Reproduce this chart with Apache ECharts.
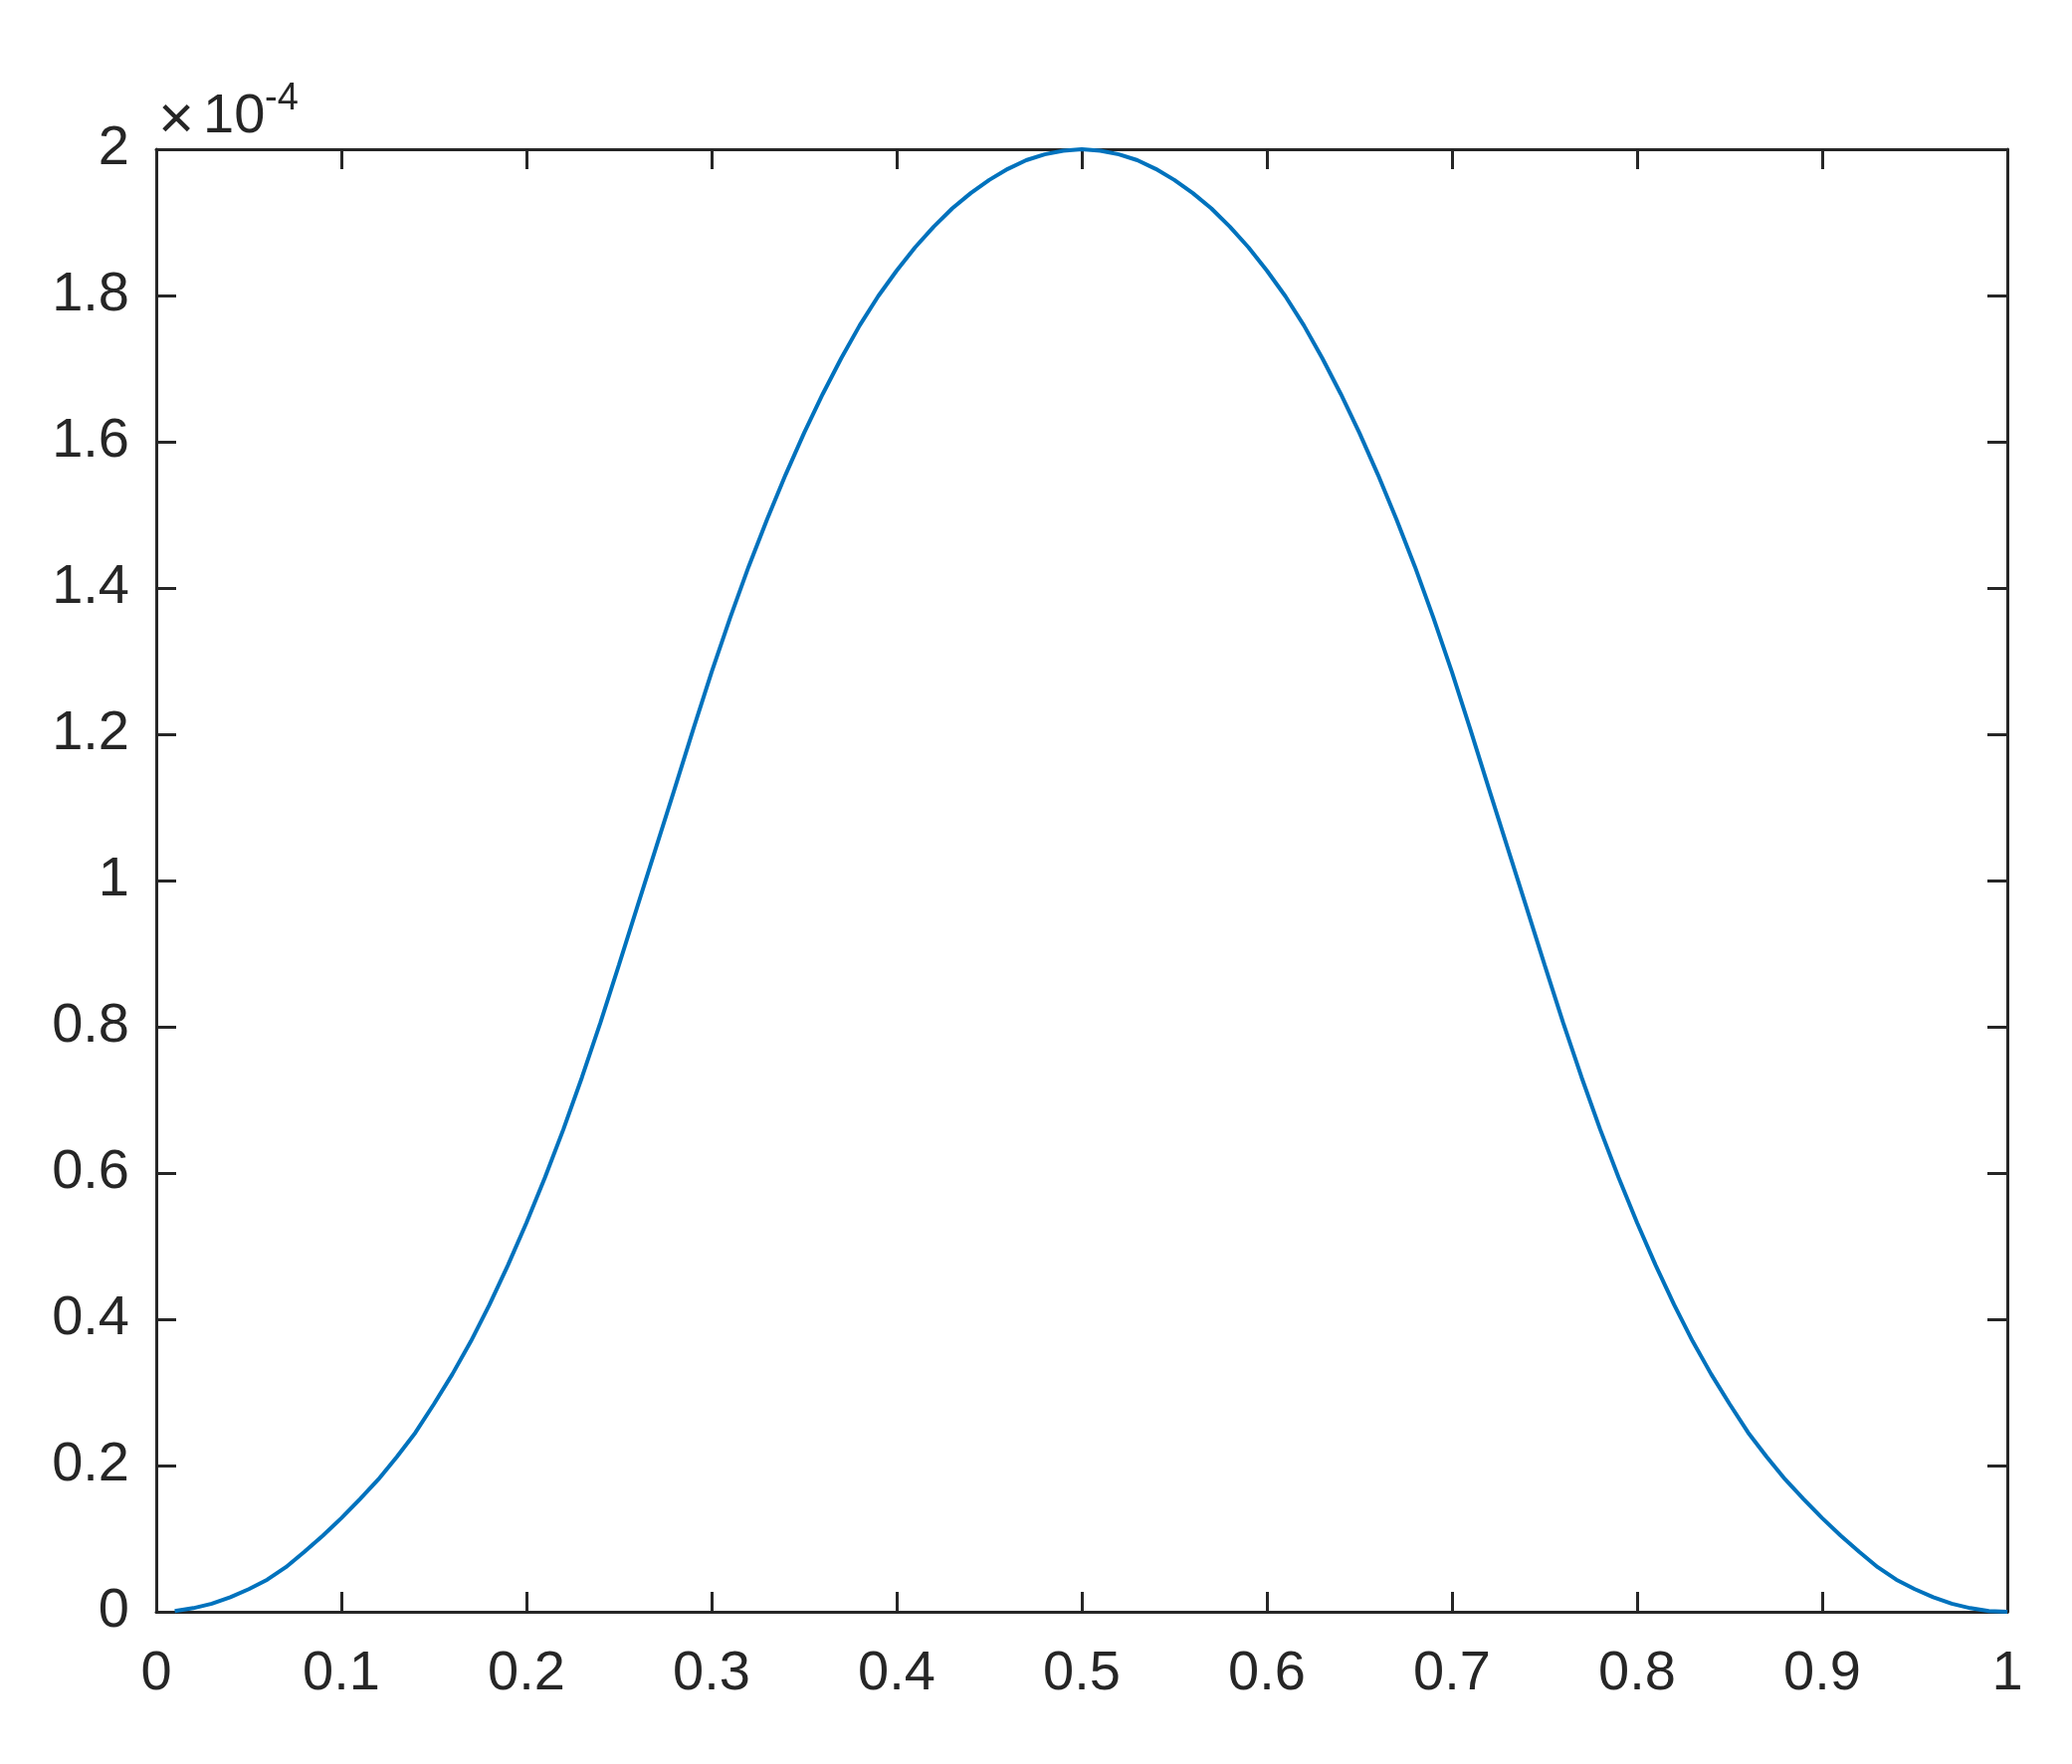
<!DOCTYPE html>
<html>
<head>
<meta charset="utf-8">
<script src="https://cdn.jsdelivr.net/npm/echarts@6/dist/echarts.min.js"></script>
<style>
  html, body { margin: 0; padding: 0; background: #ffffff; }
  #chart { width: 2082px; height: 1773px; }
</style>
</head>
<body>
<div id="chart"></div>
<script>
// ---- data (y values in units of 1e-4, as shown on the axis) ----
var xValues = [
  0.01, 0.02, 0.03, 0.04, 0.05, 0.06, 0.07, 0.08, 0.09, 0.10,
  0.11, 0.12, 0.13, 0.14, 0.15, 0.16, 0.17, 0.18, 0.19, 0.20,
  0.21, 0.22, 0.23, 0.24, 0.25, 0.26, 0.27, 0.28, 0.29, 0.30,
  0.31, 0.32, 0.33, 0.34, 0.35, 0.36, 0.37, 0.38, 0.39, 0.40,
  0.41, 0.42, 0.43, 0.44, 0.45, 0.46, 0.47, 0.48, 0.49, 0.50,
  0.51, 0.52, 0.53, 0.54, 0.55, 0.56, 0.57, 0.58, 0.59, 0.60,
  0.61, 0.62, 0.63, 0.64, 0.65, 0.66, 0.67, 0.68, 0.69, 0.70,
  0.71, 0.72, 0.73, 0.74, 0.75, 0.76, 0.77, 0.78, 0.79, 0.80,
  0.81, 0.82, 0.83, 0.84, 0.85, 0.86, 0.87, 0.88, 0.89, 0.90,
  0.91, 0.92, 0.93, 0.94, 0.95, 0.96, 0.97, 0.98, 0.99, 1.00
];
var yValues = [
  0.001, 0.005, 0.011, 0.020, 0.031, 0.044, 0.061, 0.082, 0.104, 0.128,
  0.154, 0.181, 0.212, 0.245, 0.284, 0.325, 0.370, 0.420, 0.474, 0.532,
  0.594, 0.660, 0.731, 0.806, 0.885, 0.965, 1.045, 1.125, 1.206, 1.285,
  1.359, 1.429, 1.494, 1.555, 1.612, 1.665, 1.714, 1.759, 1.799, 1.834,
  1.866, 1.894, 1.919, 1.940, 1.958, 1.973, 1.985, 1.993, 1.998, 2.000,
  1.998, 1.993, 1.985, 1.973, 1.958, 1.940, 1.919, 1.894, 1.866, 1.834,
  1.799, 1.759, 1.714, 1.665, 1.612, 1.555, 1.494, 1.429, 1.359, 1.285,
  1.206, 1.125, 1.045, 0.965, 0.885, 0.806, 0.731, 0.660, 0.594, 0.532,
  0.474, 0.420, 0.370, 0.325, 0.284, 0.245, 0.212, 0.181, 0.154, 0.128,
  0.104, 0.082, 0.061, 0.044, 0.031, 0.020, 0.011, 0.005, 0.001, 0.000
];
var xTickLabels = ['0', '0.1', '0.2', '0.3', '0.4', '0.5', '0.6', '0.7', '0.8', '0.9', '1'];
var yTickLabels = ['0', '0.2', '0.4', '0.6', '0.8', '1', '1.2', '1.4', '1.6', '1.8', '2'];
var yScaleTimes = '\u00D7';
var yScaleBase = '10';
var yScaleExponent = '-4';

var FONT = "'Liberation Sans', Arial, Helvetica, sans-serif";
var INK = '#262626';
var FS = 56;

var seriesData = xValues.map(function (x, i) { return [x, yValues[i]]; });

function xLabel(v) {
  var idx = Math.round(v / 0.1);
  return xTickLabels[idx] !== undefined ? xTickLabels[idx] : '';
}
function yLabel(v) {
  var idx = Math.round(v / 0.2);
  return yTickLabels[idx] !== undefined ? yTickLabels[idx] : '';
}

var axisLine = { show: true, onZero: false, lineStyle: { color: INK, width: 3 } };
var axisTick = { show: true, inside: true, length: 20, lineStyle: { color: INK, width: 3 } };

var chart = echarts.init(document.getElementById('chart'), null, { renderer: 'canvas' });
chart.setOption({
  animation: false,
  backgroundColor: '#ffffff',
  grid: { left: 157, top: 150, width: 1860, height: 1470, containLabel: false },
  xAxis: [
    {
      type: 'value', position: 'bottom', min: 0, max: 1, interval: 0.1,
      axisLine: axisLine, axisTick: axisTick, splitLine: { show: false },
      axisLabel: { show: true, formatter: xLabel, color: INK, fontSize: FS, fontFamily: FONT, margin: 35 }
    },
    {
      type: 'value', position: 'top', min: 0, max: 1, interval: 0.1,
      axisLine: axisLine, axisTick: axisTick, splitLine: { show: false },
      axisLabel: { show: false }
    }
  ],
  yAxis: [
    {
      type: 'value', position: 'left', min: 0, max: 2, interval: 0.2,
      axisLine: axisLine, axisTick: axisTick, splitLine: { show: false },
      axisLabel: { show: true, formatter: yLabel, color: INK, fontSize: FS, fontFamily: FONT, margin: 27 }
    },
    {
      type: 'value', position: 'right', min: 0, max: 2, interval: 0.2,
      axisLine: axisLine, axisTick: axisTick, splitLine: { show: false },
      axisLabel: { show: false }
    }
  ],
  series: [
    {
      type: 'line',
      data: seriesData,
      xAxisIndex: 0, yAxisIndex: 0,
      showSymbol: false,
      smooth: false,
      lineStyle: { color: '#0072BD', width: 4 },
      clip: true
    }
  ],
  graphic: [
    { type: 'text', x: 177, y: 122, style: { text: yScaleTimes, font: '62px ' + FONT, fill: INK, align: 'center', verticalAlign: 'middle' } },
    { type: 'text', x: 204, y: 118, style: { text: yScaleBase, font: FS + 'px ' + FONT, fill: INK, align: 'left', verticalAlign: 'middle' } },
    { type: 'text', x: 266, y: 100, style: { text: yScaleExponent, font: '38px ' + FONT, fill: INK, align: 'left', verticalAlign: 'middle' } }
  ]
});
</script>
</body>
</html>
